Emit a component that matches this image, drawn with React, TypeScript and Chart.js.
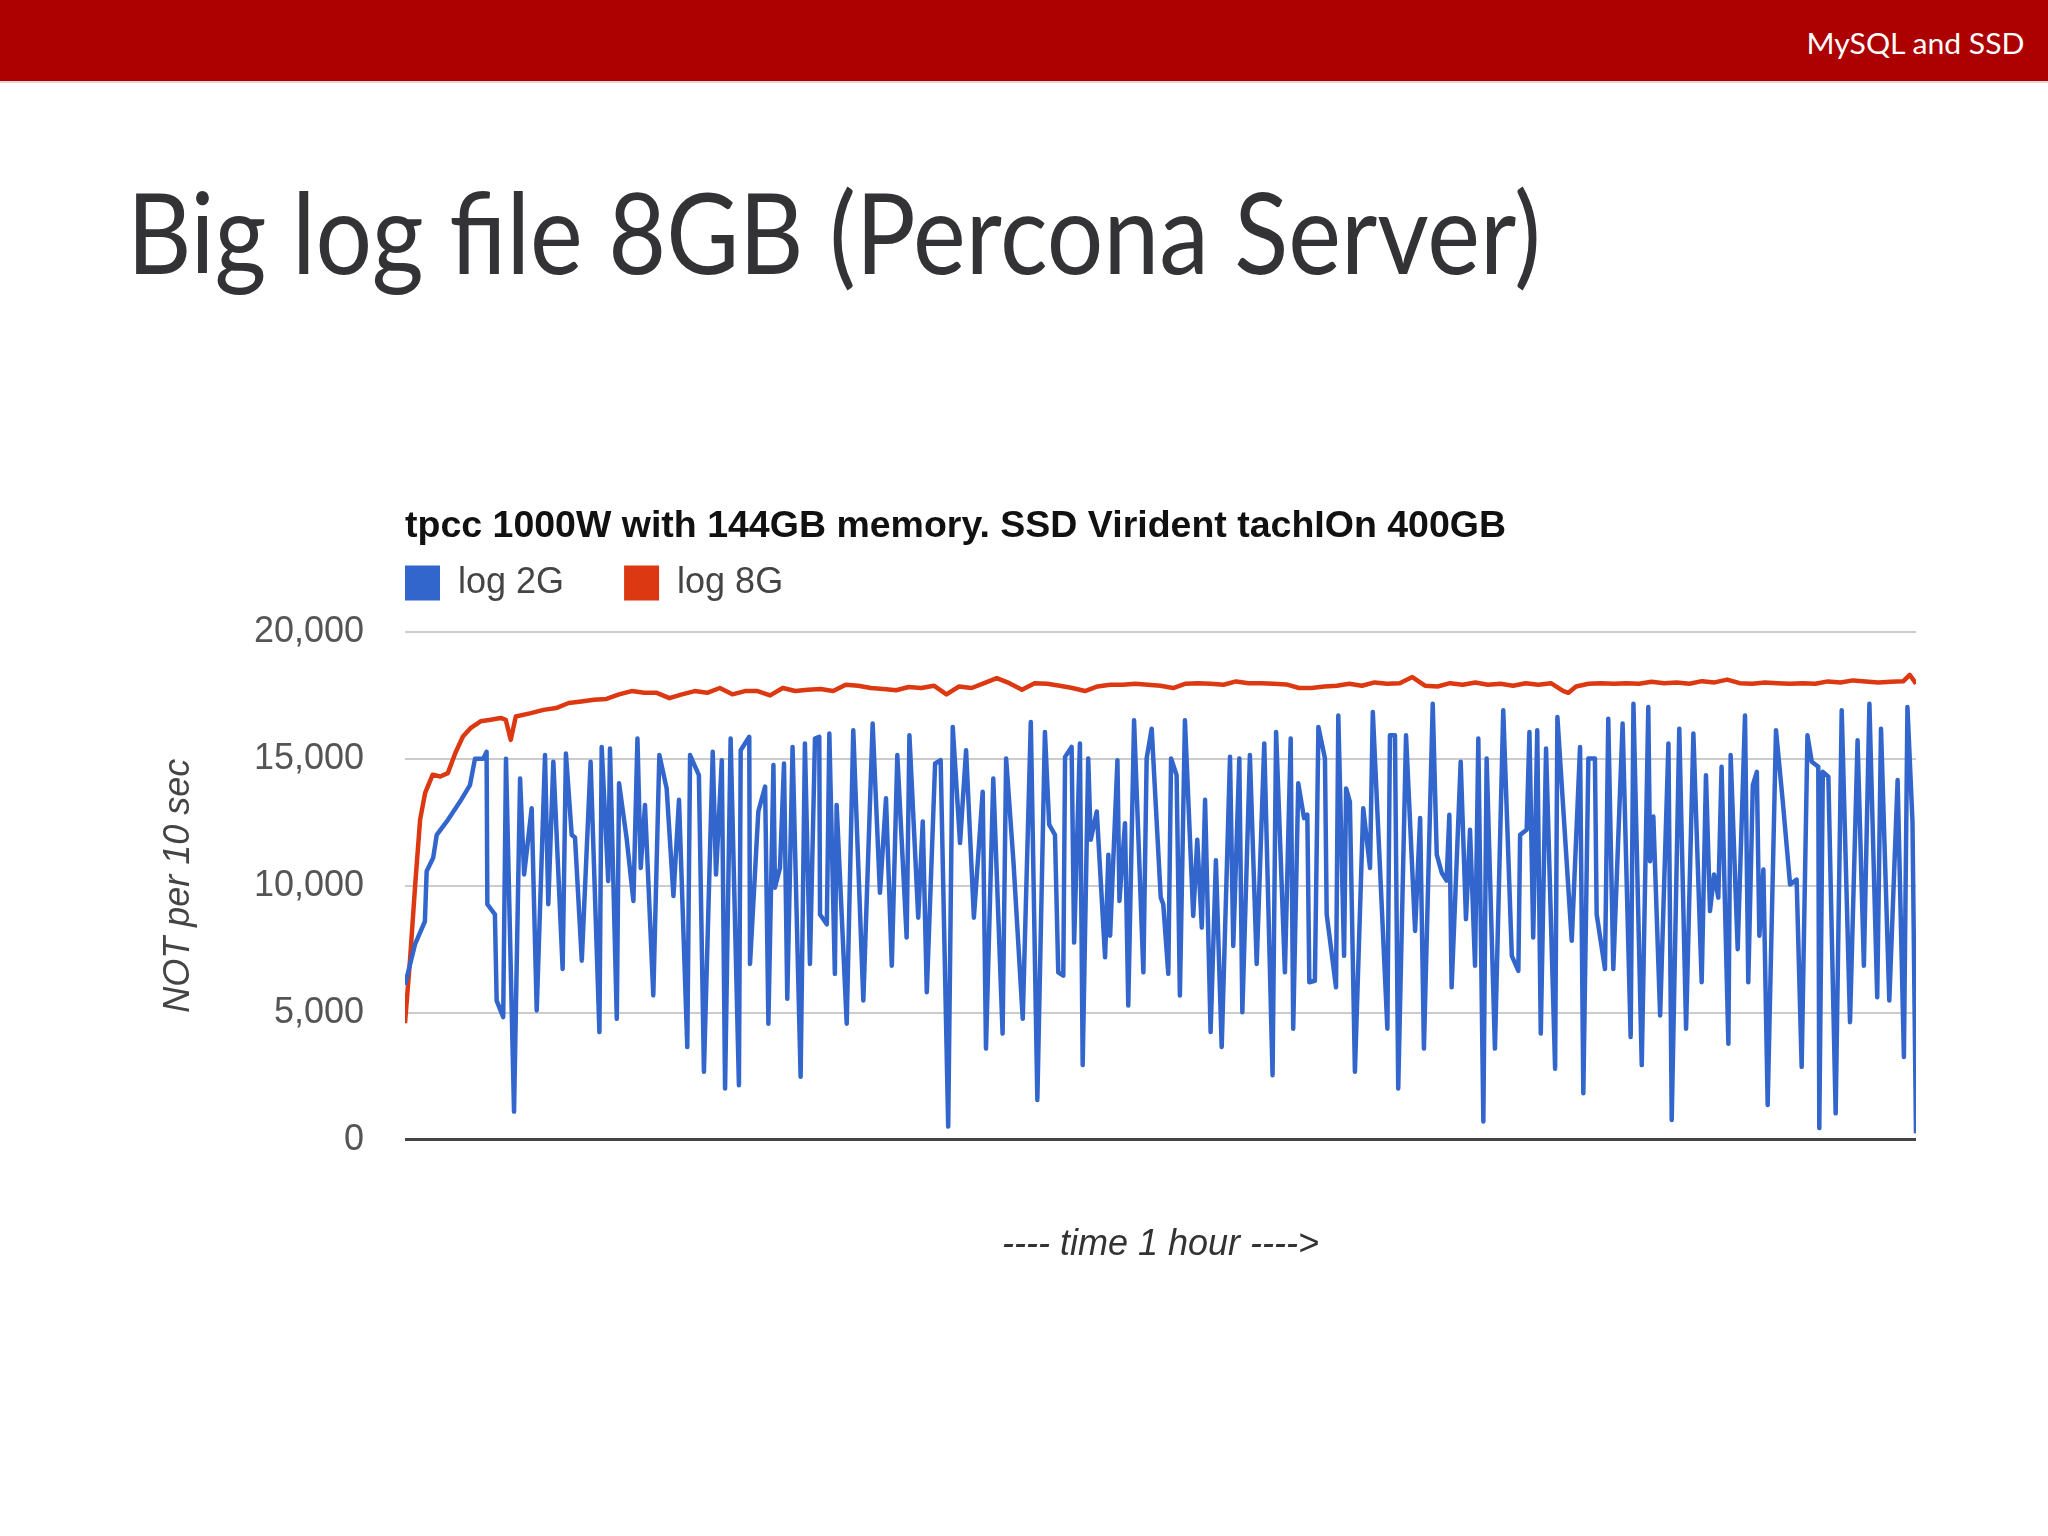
import React, { useEffect, useRef, useMemo } from "react";
import { Chart, registerables } from "chart.js";

Chart.register(...registerables);

const HEADER_TEXT = "MySQL and SSD";
const SLIDE_TITLE = "Big log file 8GB (Percona Server)";
const CHART_TITLE = "tpcc 1000W with 144GB memory. SSD Virident tachIOn 400GB";
const SERIES_LABELS = ["log 2G", "log 8G"];
const Y_TITLE = "NOT per 10 sec";
const X_TITLE = "---- time 1 hour ---->";
const Y_TICKS = [0, 5000, 10000, 15000, 20000];

// minutes since start
const blueTime = [
  0.0, 0.4, 0.79, 0.86, 1.12, 1.26, 1.66, 2.18, 2.58, 2.78, 3.11, 3.24, 3.27, 3.57, 3.64, 3.9, 4.01, 4.33, 4.57, 4.73,
  5.03, 5.23, 5.56, 5.69, 5.89, 6.26, 6.39, 6.62, 6.75, 7.02, 7.37, 7.72, 7.81, 8.07, 8.14, 8.41, 8.5, 8.8, 9.07, 9.23,
  9.36, 9.53, 9.86, 10.1, 10.39, 10.66, 10.88, 11.21, 11.32, 11.67, 11.87, 12.22, 12.35, 12.58, 12.71, 12.93, 13.26, 13.33, 13.67, 13.7,
  14.03, 14.3, 14.43, 14.63, 14.69, 14.89, 15.05, 15.18, 15.39, 15.71, 15.88, 16.08, 16.28, 16.45, 16.48, 16.75, 16.85, 17.07, 17.14, 17.54,
  17.8, 18.2, 18.57, 18.86, 19.1, 19.33, 19.55, 19.92, 20.03, 20.38, 20.56, 20.72, 21.05, 21.27, 21.57, 21.75, 22.04, 22.28, 22.59, 22.94,
  23.07, 23.36, 23.73, 23.87, 24.16, 24.53, 24.85, 25.11, 25.41, 25.58, 25.81, 25.94, 26.14, 26.21, 26.47, 26.57, 26.8, 26.91, 27.13, 27.23,
  27.47, 27.8, 27.93, 28.0, 28.29, 28.37, 28.59, 28.72, 28.95, 29.32, 29.45, 29.65, 30.01, 30.11, 30.31, 30.42, 30.64, 30.77, 30.97, 31.3,
  31.46, 31.64, 31.77, 31.99, 32.2, 32.43, 32.76, 32.89, 33.13, 33.25, 33.55, 33.82, 34.12, 34.45, 34.59, 34.94, 35.17, 35.27, 35.47, 35.7,
  35.83, 35.91, 36.13, 36.27, 36.53, 36.6, 36.97, 37.06, 37.29, 37.37, 37.52, 37.72, 38.05, 38.32, 38.43, 39.01, 39.11, 39.31, 39.44, 39.75,
  40.11, 40.31, 40.46, 40.81, 40.97, 41.17, 41.36, 41.47, 41.56, 41.92, 42.13, 42.29, 42.49, 42.62, 42.82, 42.95, 43.28, 43.61, 43.95, 44.21,
  44.28, 44.54, 44.65, 44.8, 44.96, 45.1, 45.31, 45.67, 45.76, 46.33, 46.66, 46.79, 46.99, 47.25, 47.32, 47.65, 47.78, 47.98, 48.35, 48.67,
  48.78, 49.11, 49.37, 49.44, 49.57, 49.84, 50.17, 50.3, 50.6, 50.87, 51.16, 51.49, 51.66, 51.82, 51.98, 52.15, 52.28, 52.55, 52.64, 52.92,
  53.21, 53.34, 53.52, 53.68, 53.78, 53.94, 54.11, 54.44, 54.71, 55.0, 55.26, 55.46, 55.69, 55.86, 56.12, 56.16, 56.3, 56.52, 56.81, 57.05,
  57.38, 57.68, 57.93, 58.15, 58.46, 58.61, 58.94, 59.27, 59.52, 59.66, 59.86, 60.0,
];
const blueValue = [
  6100, 7700, 8600, 10570, 11100, 12000, 12530, 13300, 13960, 15000, 15000, 15270, 9270, 8870, 5480, 4830, 15000, 1110, 14220, 10440,
  13050, 5090, 15140, 9270, 14880, 6720, 15200, 12000, 11900, 7050, 14880, 4240, 15460, 10180, 15400, 4760, 14030, 11870, 9400, 15790,
  10700, 13180, 5680, 15140, 13830, 9590, 13380, 3650, 15140, 14350, 2675, 15270, 10440, 14940, 2020, 15790, 2150, 15330, 15860, 6920,
  12920, 13900, 4570, 14750, 9920, 10700, 14810, 5550, 15460, 2480, 15600, 6920, 15790, 15860, 8870, 8480, 15990, 6530, 13180, 4570,
  16120, 5480, 16380, 9720, 13440, 6850, 15140, 7960, 15920, 8740, 12530, 5810, 14810, 14940, 520, 16250, 11680, 15330, 8740, 13700,
  3590, 14220, 4180, 15010, 10960, 4760, 16440, 1570, 16050, 12400, 12000, 6590, 6460, 15070, 15460, 7760, 15600, 2940, 15010, 11810,
  12920, 7180, 11220, 8030, 14940, 9400, 12460, 5290, 16510, 6590, 15010, 16180, 9530, 9270, 6530, 15010, 14350, 5680, 16510, 8810,
  11810, 8350, 13380, 4240, 11000, 3650, 15070, 7630, 15010, 5020, 15140, 6920, 15600, 2545, 16050, 6590, 15790, 4370, 14030, 12660,
  12800, 6200, 6260, 16250, 15010, 8870, 6000, 16700, 7240, 13830, 13300, 2675, 13050, 10700, 16840, 4370, 15920, 15920, 2020, 15920,
  8220, 12660, 3590, 17160, 11220, 10500, 10200, 12790, 6000, 14880, 8680, 12200, 6850, 15790, 720, 15010, 3590, 16900, 7240, 6650,
  12000, 12200, 16050, 7960, 16120, 4180, 15400, 2800, 16640, 7830, 15460, 1830, 15010, 15010, 8870, 6720, 16570, 6720, 16380, 4050,
  17160, 2940, 17030, 10960, 12720, 4890, 15600, 780, 16180, 4370, 15990, 6200, 14350, 9000, 10440, 9530, 14680, 3780, 15140, 7500,
  16700, 6200, 13960, 14480, 8030, 10640, 1370, 16120, 13310, 10050, 10240, 2870, 15920, 14880, 14680, 460, 14480, 14290, 1040, 16900,
  4630, 15720, 6850, 17160, 5610, 16180, 5480, 14160, 3260, 17030, 12530, 260,
];

const redTime = [
  0, 0.2, 0.4, 0.6, 0.8, 1.1, 1.4, 1.7, 2.0, 2.3, 2.6, 3.0, 3.4, 3.8, 4.0, 4.2, 4.4, 5.0, 5.5, 6.0,
  6.5, 7.0, 7.5, 8.0, 8.5, 9.0, 9.5, 10.0, 10.5, 11.0, 11.5, 12.0, 12.5, 13.0, 13.5, 14.0, 14.5, 15.0, 15.5, 16.0,
  16.5, 17.0, 17.5, 18.0, 18.5, 19.0, 19.5, 20.0, 20.5, 21.0, 21.5, 22.0, 22.5, 23.0, 23.5, 24.0, 24.5, 25.0, 25.5, 26.0,
  26.5, 27.0, 27.5, 28.0, 28.5, 29.0, 29.5, 30.0, 30.5, 31.0, 31.5, 32.0, 32.5, 33.0, 33.5, 34.0, 34.5, 35.0, 35.5, 36.0,
  36.5, 37.0, 37.5, 38.0, 38.5, 39.0, 39.5, 40.0, 40.5, 41.0, 41.5, 42.0, 42.5, 43.0, 43.5, 44.0, 44.5, 45.0, 45.5, 46.0,
  46.2, 46.5, 47.0, 47.5, 48.0, 48.5, 49.0, 49.5, 50.0, 50.5, 51.0, 51.5, 52.0, 52.5, 53.0, 53.5, 54.0, 54.5, 55.0, 55.5,
  56.0, 56.5, 57.0, 57.5, 58.0, 58.5, 59.0, 59.5, 59.75, 60.0,
];
const redValue = [
  4590, 7090, 9970, 12600, 13650, 14370, 14300, 14430, 15220, 15870, 16200, 16470, 16530, 16600, 16530, 15740, 16660, 16790, 16920, 16990,
  17190, 17250, 17320, 17350, 17530, 17660, 17590, 17590, 17380, 17530, 17660, 17590, 17780, 17530, 17660, 17660, 17490, 17780, 17660, 17710,
  17740, 17660, 17910, 17870, 17780, 17740, 17690, 17820, 17780, 17870, 17530, 17840, 17780, 17970, 18170, 17970, 17710, 17970, 17950, 17870,
  17780, 17660, 17840, 17910, 17910, 17950, 17910, 17870, 17780, 17950, 17970, 17950, 17910, 18040, 17970, 17970, 17950, 17920, 17780, 17780,
  17840, 17870, 17950, 17870, 18000, 17950, 17970, 18210, 17870, 17840, 17970, 17910, 18000, 17910, 17950, 17870, 17970, 17910, 17970, 17660,
  17590, 17840, 17950, 17970, 17950, 17970, 17950, 18030, 17970, 18000, 17950, 18050, 18000, 18110, 17970, 17950, 18000, 17970, 17950, 17970,
  17950, 18040, 18000, 18080, 18040, 18000, 18030, 18050, 18300, 17950,
];

const BLUE = "#3366cc";
const RED = "#dc3912";
const CHART_FONT = "'Liberation Sans', Arial, sans-serif";
const SLIDE_FONT = "Lato, 'Open Sans', sans-serif";

function measure(text: string, font: string): number {
  const c = document.createElement("canvas").getContext("2d");
  if (!c) return 1;
  c.font = font;
  return c.measureText(text).width || 1;
}

const legendSpacer = {
  id: "legendSpacer",
  beforeInit(chart: any) {
    const orig = chart.legend.fit;
    chart.legend.fit = function () {
      orig.call(this);
      this.height += 20.6;
    };
  },
};

function LineChart() {
  const ref = useRef<HTMLCanvasElement | null>(null);
  useEffect(() => {
    if (!ref.current) return;
    const chart = new Chart(ref.current, {
      type: "line",
      data: {
        datasets: [
          {
            label: SERIES_LABELS[0],
            data: blueTime.map((t, i) => ({ x: t, y: blueValue[i] })),
            borderColor: BLUE,
            backgroundColor: BLUE,
            borderWidth: 4.5,
            pointRadius: 0,
            tension: 0,
            borderJoinStyle: "round",
          },
          {
            label: SERIES_LABELS[1],
            data: redTime.map((t, i) => ({ x: t, y: redValue[i] })),
            borderColor: RED,
            backgroundColor: RED,
            borderWidth: 4.5,
            pointRadius: 0,
            tension: 0,
            borderJoinStyle: "round",
          },
        ],
      },
      options: {
        responsive: false,
        animation: false,
        devicePixelRatio: 1,
        locale: "en-US",
        layout: { padding: { left: 0, right: 30, top: 0, bottom: 0 } },
        plugins: {
          tooltip: { enabled: false },
          title: {
            display: true,
            text: CHART_TITLE,
            align: "start",
            fullSize: false,
            color: "#111",
            font: { family: CHART_FONT, size: 37.5, weight: "bold", lineHeight: 1.2 },
            padding: { top: 24, bottom: 16 },
          },
          legend: {
            display: true,
            position: "top",
            align: "start",
            fullSize: false,
            labels: {
              boxWidth: 35,
              boxHeight: 35,
              padding: 0,
              color: "#444",
              font: { family: CHART_FONT, size: 36 },
              generateLabels: (ch: any) =>
                Chart.defaults.plugins.legend.labels
                  .generateLabels(ch)
                  .map((l: any) => ({ ...l, lineWidth: 0, text: l.text + "      " })),
            },
          },
        },
        scales: {
          x: {
            type: "linear",
            min: 0,
            max: 60,
            grid: { display: false, drawTicks: false },
            border: { display: false },
            ticks: { display: false },
            title: {
              display: true,
              text: X_TITLE,
              color: "#333",
              font: { family: CHART_FONT, size: 36, style: "italic" },
              padding: { top: 84, bottom: 10 },
            },
          },
          y: {
            min: Y_TICKS[0],
            max: Y_TICKS[Y_TICKS.length - 1],
            afterFit: (scale: any) => {
              scale.width = 305;
            },
            afterBuildTicks: (scale: any) => {
              scale.ticks = Y_TICKS.map((v) => ({ value: v }));
            },
            grid: {
              drawTicks: false,
              color: (ctx: any) => (ctx.tick && ctx.tick.value === 0 ? "#444" : "#cccccc"),
              lineWidth: (ctx: any) => (ctx.tick && ctx.tick.value === 0 ? 3 : 2),
            },
            border: { display: false },
            ticks: {
              padding: 41,
              color: "#555",
              font: { family: CHART_FONT, size: 36 },
            },
            title: {
              display: true,
              text: Y_TITLE,
              color: "#444",
              font: { family: CHART_FONT, size: 36, style: "italic" },
              padding: { top: 57, bottom: 0 },
            },
          },
        },
      },
      plugins: [legendSpacer],
    } as any);
    return () => chart.destroy();
  }, []);
  return (
    <canvas
      ref={ref}
      width={1846}
      height={797}
      style={{ position: "absolute", left: 100, top: 480, width: 1846, height: 797 }}
    />
  );
}

export default function App() {
  const titleScale = useMemo(() => 1414 / measure(SLIDE_TITLE, `112px ${SLIDE_FONT}`), []);
  const headerScale = useMemo(() => 219 / measure(HEADER_TEXT, `29px ${SLIDE_FONT}`), []);
  return (
    <div
      style={{
        position: "absolute",
        left: 0,
        top: 0,
        width: 2048,
        height: 1536,
        overflow: "hidden",
        background: "#ffffff",
      }}
    >
      <div
        style={{
          position: "absolute",
          left: 0,
          top: 0,
          width: 2048,
          height: 81,
          background: "#ad0000",
          borderBottom: "2px solid #e9d4d4",
        }}
      />
      <div
        style={{
          position: "absolute",
          right: 23,
          top: 28,
          fontFamily: SLIDE_FONT,
          fontSize: 29,
          lineHeight: 1,
          color: "#ffffff",
          whiteSpace: "nowrap",
          transform: `scaleX(${headerScale})`,
          transformOrigin: "right top",
        }}
      >
        {HEADER_TEXT}
      </div>
      <div
        style={{
          position: "absolute",
          left: 127,
          top: 175,
          fontFamily: SLIDE_FONT,
          fontSize: 112,
          lineHeight: 1,
          color: "#333336",
          whiteSpace: "nowrap",
          transform: `scaleX(${titleScale})`,
          transformOrigin: "left top",
        }}
      >
        {SLIDE_TITLE}
      </div>
      <LineChart />
    </div>
  );
}
